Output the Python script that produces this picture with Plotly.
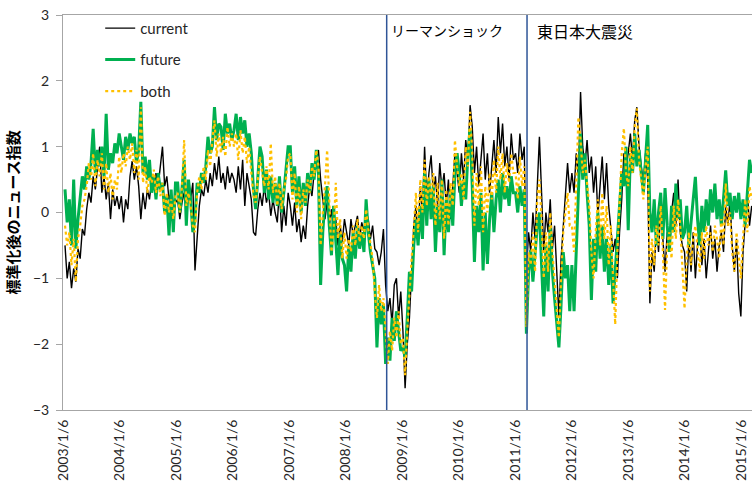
import pandas as pd
import plotly.graph_objects as go

# ---- data (bi-weekly readings, starting 2003/1/6) ----
start_date = "2003-01-06"

current = [
    -0.5, -1.0, -0.75, -1.15, -0.85, -1.05, -0.55, -0.7, -0.25, -0.35, 0.05, 0.3, 0.15, 0.55, 0.35, 0.7, 1.0, 0.3, 0.55, 0.2, 0.45, -0.1, 0.35, 0.1, 0.25, 0.05,
    0.25, -0.15, 0.2, 0.05, 0.55, 0.78, 0.5, 0.7, 0.4, -0.1, 0.3, 0.05, 0.35, 0.2, 0.5, 0.35, 0.6, 0.4, 0.7, 1.0, 0.4, 0.55, 0.2, 0.3, -0.05, 0.15,
    0.2, -0.1, 0.15, 0.3, 0.05, 0.4, 0.2, 0.45, -0.88, -0.3, 0.1, 0.35, 0.25, 0.5, 0.3, 0.6, 0.4, 0.75, 0.5, 0.85, 0.45, 0.6, 0.35, 0.7, 0.45, 0.6,
    0.5, 0.3, 0.7, 0.35, 0.8, 0.1, 0.6, 0.4, 0.2, -0.3, -0.35, 0.05, 0.3, 0.1, 0.4, 0.15, 0.3, -0.05, 0.2, 0.0, -0.15, 0.35, -0.3, 0.1, -0.2, 0.3,
    0.1, -0.2, 0.15, -0.3, -0.1, -0.45, -0.2, -0.4, 0.1, 0.4, 0.25, 0.6, 0.8, 0.95, 0.5, 0.2, -0.1, 0.15, -0.2, 0.05, -0.3, -0.1, -0.5, -0.2, -0.45, -0.1,
    -0.3, -0.5, -0.1, -0.35, -0.2, -0.05, -0.4, -0.15, -0.3, 0.0, -0.1, -0.4, -0.2, -0.55, -0.6, -0.8, -0.6, -0.25, -1.1, -1.5, -1.3, -1.7, -1.1, -1.0, -1.6, -1.2,
    -1.8, -2.67, -2.0, -1.6, -0.9, -0.2, 0.1, -0.4, 0.4, 0.0, 1.0, 0.2, 0.6, 0.87, 0.3, 0.55, 0.1, 0.75, 0.35, 0.6, 0.1, 0.5, -0.1, 0.4, 0.9, 0.6,
    0.3, 0.9, 0.5, 1.1, 0.8, 1.63, 1.3, 0.6, 1.0, 0.4, 0.85, 1.2, 0.5, 0.9, 0.3, 0.75, 1.1, 0.6, 1.45, 0.9, 1.35, 0.7, 1.0, 0.5, 1.2, 0.8,
    0.9, 0.6, 1.2, 0.8, 1.0, -0.9, -0.3, -0.6, 0.0, -0.4, 0.5, 1.15, 0.3, -0.6, 0.0, -0.3, 0.2, -0.55, -0.2, -1.0, -1.58, -0.7, -0.2, 0.35, 0.75, 0.3,
    0.6, 0.3, 0.9, 0.55, 1.83, 1.0, 0.7, 1.1, 0.6, 0.85, 0.3, 0.7, -0.05, 0.4, 0.85, 0.2, 0.75, 0.1, -0.3, -0.6, -0.4, -1.0, -0.3, 0.2, 0.9, 0.7,
    0.9, 1.2, 0.8, 1.4, 1.6, 1.0, 0.7, 0.45, 0.9, 0.5, -1.38, -0.6, -0.9, -0.2, -0.6, 0.1, -0.4, -0.9, -0.3, -0.6, 0.0, 0.3, -0.2, 0.5, -0.3, -0.5,
    -0.6, -1.2, -0.4, -0.9, -0.3, -1.0, -0.5, -0.2, -0.8, -0.4, -1.0, -0.6, -0.2, -0.7, -0.4, -0.9, -0.5, -0.3, -0.6, 0.1, -0.2, 0.2, -0.5, -0.9, -0.4, -1.23,
    -1.58, -0.6, -0.1, 0.3, -0.2, 0.1,
]

future = [
    0.35, -0.15, 0.2, -0.5, 0.5, -0.55, -0.1, 0.25, 0.55, 0.35, 0.7, 0.5, 0.75, 1.27, 0.6, 0.95, 0.7, 1.0, 0.55, 1.5, 0.65, 0.9, 0.75, 1.05, 0.9, 1.2,
    1.0, 0.8, 1.15, 0.95, 1.2, 1.05, 1.15, 0.75, 0.95, 1.68, 0.6, 0.85, 0.5, 0.8, 0.3, 0.55, 0.2, 0.6, 0.35, 0.45, 0.0, 0.25, -0.35, 0.35, -0.3, 0.45,
    0.45, 0.0, 0.35, 0.8, -0.2, 0.5, 0.2, -0.3, -0.1, 0.45, 0.3, 0.6, 0.45, 0.7, 1.15, 0.9, 1.0, 1.6, 1.1, 1.35, 1.3, 0.95, 1.5, 1.2, 1.35, 1.1,
    1.25, 1.5, 1.1, 1.45, 1.2, 1.4, 1.0, 1.2, 0.9, 0.35, 0.05, 0.6, 1.0, 0.85, 0.3, 0.65, 0.2, 0.55, 0.15, 0.45, 0.1, 0.55, 0.0, 0.3, 0.6, 1.0,
    1.0, 0.3, 0.7, 0.1, 0.55, 0.0, 0.45, 0.1, 0.6, 0.3, 0.75, 0.5, 0.95, 0.6, -1.1, -0.3, 0.2, 0.4, -0.2, -0.65, 0.1, -0.5, -0.95, -0.3, -0.7, -0.8,
    -1.2, -0.5, -0.9, -0.3, -0.7, -0.2, -0.55, -0.3, -0.6, 0.2, -0.3, -0.6, -0.8, -1.0, -2.05, -1.3, -1.7, -1.4, -2.3, -1.9, -2.25, -1.6, -1.95, -1.5, -1.8, -2.1,
    -2.05, -2.2, -1.6, -0.9, -1.2, -0.5, -0.1, -0.5, 0.1, -0.4, 0.6, -0.2, 0.5, -0.1, 0.4, -0.6, 0.1, -0.3, 0.5, -0.65, 0.2, -0.3, 0.35, -0.2, 0.6, 0.9,
    0.6, 0.1, 0.5, 0.2, 0.9, 1.28, 0.4, -0.75, 0.1, -0.3, 0.3, -0.88, 0.0, -0.78, -0.1, 0.3, -0.3, 0.2, 0.5, 0.0, 0.6, 0.2, 0.4, 0.1, 0.55, 0.3,
    0.3, 0.0, 0.4, 0.1, 0.35, -1.84, -0.9, -0.57, -1.05, -0.6, -0.2, 0.0, -0.7, -1.58, -0.5, -1.2, -0.2, -0.9, -1.3, -1.7, -2.05, -1.4, -0.6, -1.0, -0.8, -1.5,
    -0.8, -1.5, -0.6, 0.6, 1.2, 0.5, 0.9, 0.3, -0.2, -1.33, -0.4, -0.9, 0.0, -0.7, -0.2, -0.9, -0.4, -1.1, -0.5, -1.38, -0.9, -0.4, 0.1, 0.6, 0.4, 1.0,
    -0.27, 0.9, 0.6, 1.2, 0.7, 0.95, 0.6, 0.3, 0.8, 1.33, 0.0, -0.3, 0.2, -0.5, 0.0, 0.3, -0.4, 0.37, -0.2, -0.6, 0.1, -0.3, 0.44, -0.1, 0.2, -0.4,
    -0.3, 0.1, -0.5, -0.1, 0.2, 0.54, -0.1, -0.5, 0.1, -0.3, 0.2, -0.2, 0.35, 0.0, 0.44, -0.1, 0.2, -0.2, 0.3, 0.64, 0.1, 0.3, -0.1, 0.25, 0.0, 0.3,
    -0.1, 0.2, -0.2, 0.3, 0.8, 0.6,
]

both = [
    -0.2, -0.5, -0.3, -0.8, -0.4, -1.05, -0.4, -0.2, 0.1, 0.2, 0.4, 0.75, 0.5, 0.9, 0.4, 0.8, 0.55, 0.9, 0.35, 0.75, 0.3, 0.6, 0.2, 0.5, 0.35, 0.85,
    0.6, 0.9, 0.7, 1.0, 0.8, 1.05, 0.6, 0.95, 0.5, 1.6, 0.45, 0.7, 0.3, 0.55, 0.45, 0.65, 0.3, 0.55, 0.25, 0.45, -0.05, 0.3, 0.0, 0.2, -0.1, 0.25,
    0.3, 0.0, 0.4, 1.1, 0.1, 0.3, 0.1, -0.2, -0.3, 0.3, 0.55, 0.35, 0.7, 0.5, 0.95, 0.7, 1.1, 1.4, 0.85, 1.2, 0.9, 1.15, 0.85, 1.3, 1.0, 1.2,
    1.0, 1.2, 0.8, 1.25, 0.9, 1.15, 0.75, 1.0, 0.6, 0.25, 0.15, 0.5, 0.85, 0.6, 0.4, 0.7, 0.35, 1.05, 0.3, 0.55, 0.1, 0.45, 0.05, 0.35, 0.5, 0.85,
    0.9, 0.2, 0.6, 0.0, 0.4, -0.1, 0.35, 0.15, 0.5, 0.3, 0.7, 0.55, 0.95, 0.7, -0.5, 0.0, 0.4, 0.95, 0.1, -0.6, -0.3, 0.45, -0.4, -0.1, -0.7, -0.3,
    -0.7, -0.4, -0.6, -0.2, -0.5, -0.1, -0.45, -0.2, -0.4, 0.05, -0.25, -0.5, -0.7, -1.2, -1.6, -1.1, -1.5, -1.3, -1.9, -2.3, -1.8, -2.1, -1.6, -1.9, -1.5, -2.0,
    -1.9, -2.47, -1.8, -1.2, -0.7, -0.25, 0.3, -0.3, 0.5, 0.0, 0.8, 0.1, 0.55, 0.2, 0.6, -0.2, 0.45, -0.1, 0.5, -0.4, 0.35, -0.2, 0.45, 0.1, 1.1, 0.7,
    0.4, 0.6, 0.2, 1.0, 0.7, 1.53, 0.9, -0.2, 0.6, 0.1, 0.7, -0.3, 0.4, 0.0, 0.6, 0.2, 0.8, 0.3, 1.0, 0.5, 0.9, 0.3, 0.75, 0.45, 0.9, 0.6,
    0.6, 0.2, 0.85, 0.4, 0.7, -1.74, -0.6, -0.8, -0.3, -0.9, 0.2, 0.5, -0.1, -1.0, -0.3, -0.9, 0.0, -0.6, -1.0, -1.5, -1.9, -1.0, -0.3, 0.0, 0.3, -0.2,
    -0.2, -0.6, 0.3, 1.45, 1.1, 0.6, 0.8, 0.4, 0.1, -0.6, -1.0, -0.3, 0.2, -0.5, 0.3, -0.4, 0.1, -0.8, -0.2, -1.0, -1.7, -0.6, 0.2, 0.9, 1.28, 0.6,
    0.4, 1.0, 0.6, 1.3, 1.58, 0.8, 0.5, 0.2, 0.7, 1.0, -1.2, -0.4, -0.8, -0.2, -0.5, 0.1, -0.6, -1.48, -0.5, -0.3, -0.7, 0.1, -0.4, 0.2, -0.2, -0.9,
    -1.46, -0.7, -0.3, -0.8, -0.4, -0.2, -0.6, -0.9, -0.3, -0.7, -0.2, -0.5, -0.3, -0.6, -0.2, -0.4, -0.7, -0.1, -0.5, 0.44, -0.2, 0.0, -0.6, -0.9, -0.3, -0.7,
    -1.0, -0.4, 0.2, -0.3, 0.4, 0.2,
]

tick_dates = ["2003-01-06", "2004-01-06", "2005-01-06", "2006-01-06", "2007-01-06",
              "2008-01-06", "2009-01-06", "2010-01-06", "2011-01-06", "2012-01-06",
              "2013-01-06", "2014-01-06", "2015-01-06"]
tick_labels = ["2003/1/6", "2004/1/6", "2005/1/6", "2006/1/6", "2007/1/6",
               "2008/1/6", "2009/1/6", "2010/1/6", "2011/1/6", "2012/1/6",
               "2013/1/6", "2014/1/6", "2015/1/6"]

event_dates = ["2008-09-15", "2011-03-11"]
event_labels = ["リーマンショック", "東日本大震災"]

y_title = "標準化後のニュース指数"
x_range = ["2002-12-24", "2015-03-04"]

# ---- figure ----
dates = pd.date_range(start_date, periods=len(current), freq="14D")

LATIN = "Lato, 'Noto Sans CJK JP', sans-serif"
CJK = "'Noto Sans CJK JP', sans-serif"
AXIS_GRAY = "#A6A6A6"

fig = go.Figure()
fig.add_trace(go.Scatter(x=dates, y=current, name="current", mode="lines",
                         legendgroup="g1",
                         line=dict(color="#000000", width=1.4)))
fig.add_trace(go.Scatter(x=dates, y=future, name="future", mode="lines",
                         legendgroup="g2",
                         line=dict(color="#00B050", width=3)))
fig.add_trace(go.Scatter(x=dates, y=both, name="both", mode="lines",
                         legendgroup="g3",
                         line=dict(color="#FFC000", width=2.2, dash="dot")))

for d in event_dates:
    fig.add_shape(type="line", xref="x", yref="y", x0=d, x1=d, y0=-3, y1=3,
                  line=dict(color="#2F5597", width=1.5), layer="above")

fig.add_annotation(x=event_dates[0], y=3, xref="x", yref="y", text=event_labels[0],
                   showarrow=False, xanchor="left", yanchor="top", xshift=2, yshift=-3,
                   font=dict(family=CJK, size=14, color="#000000"))
fig.add_annotation(x=event_dates[1], y=3, xref="x", yref="y", text=event_labels[1],
                   showarrow=False, xanchor="left", yanchor="top", xshift=8, yshift=-2,
                   font=dict(family=CJK, size=16, color="#000000"))

fig.update_layout(
    width=752, height=486,
    margin=dict(l=63, r=0, t=15, b=76),
    plot_bgcolor="white", paper_bgcolor="white",
    showlegend=True,
    legend=dict(x=0.054, y=1.008, xanchor="left", yanchor="top",
                bgcolor="rgba(0,0,0,0)", tracegroupgap=9,
                font=dict(family=LATIN, size=15, color="#262626")),
    xaxis=dict(type="date", range=x_range, tickmode="array",
               tickvals=tick_dates, ticktext=tick_labels, tickangle=-90,
               showline=True, linecolor=AXIS_GRAY, linewidth=1, mirror=True,
               showgrid=False, zeroline=False, ticks="", automargin=False,
               ticklabelstandoff=3, ticklabelshift=-2, ticklabeloverflow="allow",
               tickfont=dict(family=LATIN, size=14, color="#262626")),
    xaxis2=dict(type="date", range=x_range, overlaying="x", anchor="free",
                position=0.5, side="bottom", tickmode="array", tickvals=tick_dates,
                showticklabels=False, ticks="outside", ticklen=4, automargin=False,
                tickcolor=AXIS_GRAY, showline=True, linecolor=AXIS_GRAY,
                linewidth=1, showgrid=False, zeroline=False),
    yaxis=dict(range=[-3, 3], dtick=1, tick0=0, showline=True, linecolor=AXIS_GRAY,
               linewidth=1, ticks="outside", ticklen=6, tickcolor=AXIS_GRAY,
               showgrid=False, zeroline=False, automargin=False,
               ticklabelstandoff=4, ticklabeloverflow="allow",
               tickfont=dict(family=LATIN, size=14, color="#262626"),
               title=dict(text="<b>" + y_title + "</b>", standoff=9,
                          font=dict(family=CJK, size=15, color="#000000"))),
)

# remove the browser's default 8px body margin so the figure fills the window
fig.write_html("out.html", config={"displayModeBar": False},
               post_script="document.body.style.margin='0px';")
